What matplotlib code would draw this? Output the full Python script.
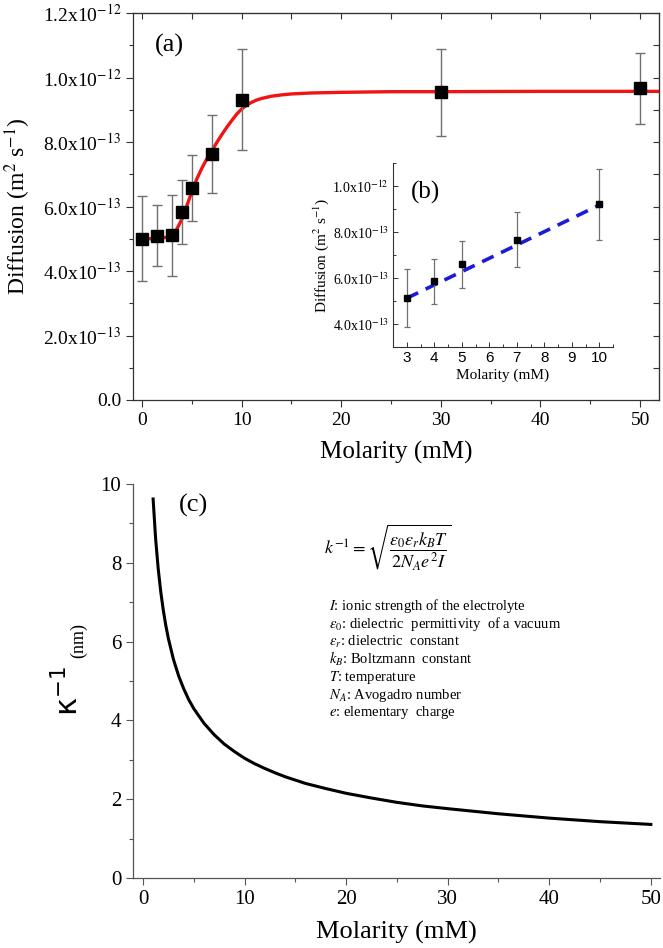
import matplotlib
matplotlib.use("Agg")
import matplotlib.pyplot as plt
from matplotlib.ticker import MultipleLocator

plt.rcParams['font.family'] = ['Liberation Serif', 'DejaVu Serif']
plt.rcParams['mathtext.fontset'] = 'stix'

# ---- panel (a): diffusion vs molarity
molarity = [0, 1.5, 3, 4, 5, 7, 10, 30, 50]
diffusion = [5.00e-13, 5.10e-13, 5.11e-13, 5.84e-13, 6.57e-13, 7.63e-13, 9.31e-13, 9.54e-13, 9.67e-13]
diffusion_err = [1.32e-13, 0.94e-13, 1.25e-13, 0.99e-13, 1.02e-13, 1.20e-13, 1.57e-13, 1.35e-13, 1.10e-13]

# red fitted curve
fit_x = [0, 1, 2, 2.5, 3, 3.5, 4, 4.5, 5, 5.5, 6, 6.5, 7, 7.5, 8, 8.5, 9, 9.5, 10, 10.5, 11, 11.5,
         12, 13, 14, 15, 17, 20, 25, 30, 40, 52]
fit_y = [5.00e-13, 5.00e-13, 5.02e-13, 5.05e-13, 5.12e-13, 5.30e-13, 5.60e-13, 6.02e-13, 6.45e-13,
         6.85e-13, 7.18e-13, 7.47e-13, 7.72e-13, 7.98e-13, 8.22e-13, 8.45e-13, 8.66e-13, 8.86e-13,
         9.02e-13, 9.14e-13, 9.23e-13, 9.30e-13, 9.35e-13, 9.42e-13, 9.46e-13, 9.49e-13, 9.52e-13,
         9.54e-13, 9.56e-13, 9.56e-13, 9.57e-13, 9.57e-13]

xticks_a = [0, 10, 20, 30, 40, 50]
yticks_a = [0, 2e-13, 4e-13, 6e-13, 8e-13, 1e-12, 1.2e-12]
ytick_labels_a = ["0.0", "2.0x10$^{-13}$", "4.0x10$^{-13}$", "6.0x10$^{-13}$",
                  "8.0x10$^{-13}$", "1.0x10$^{-12}$", "1.2x10$^{-12}$"]

# ---- panel (b): inset, low molarity
molarity_b = [3, 4, 5, 7, 10]
diffusion_b = [5.12e-13, 5.85e-13, 6.60e-13, 7.67e-13, 9.21e-13]
diffusion_b_err = [1.26e-13, 0.99e-13, 1.03e-13, 1.21e-13, 1.55e-13]
linfit_x = [3, 10]
linfit_y = [5.12e-13, 9.17e-13]
yticks_b = [4e-13, 6e-13, 8e-13, 1e-12]
ytick_labels_b = ["4.0x10$^{-13}$", "6.0x10$^{-13}$", "8.0x10$^{-13}$", "1.0x10$^{-12}$"]
xticks_b = [3, 4, 5, 6, 7, 8, 9, 10]

# ---- panel (c): Debye length vs molarity
conc = [1, 1.25, 1.5, 1.75, 2, 2.25, 2.5, 3, 3.5, 4, 4.5, 5, 6, 7, 8, 9, 10, 11, 12, 13, 14, 16, 18,
        20, 22.5, 25, 27.5, 30, 35, 40, 45, 50]
debye = [9.62, 8.60, 7.85, 7.27, 6.80, 6.41, 6.08, 5.55, 5.14, 4.81, 4.53, 4.30, 3.93, 3.64, 3.40,
         3.21, 3.04, 2.90, 2.78, 2.67, 2.57, 2.40, 2.27, 2.15, 2.03, 1.92, 1.83, 1.76, 1.63, 1.52,
         1.43, 1.36]
xticks_c = [0, 10, 20, 30, 40, 50]
yticks_c = [0, 2, 4, 6, 8, 10]

equation = r"$k^{-1} = \sqrt{\dfrac{\varepsilon_0\varepsilon_r k_B T}{2N_A e^2 I}}$"
definitions = [
    r"$I$: ionic strength of the electrolyte",
    r"$\varepsilon_0$: dielectric  permittivity  of a vacuum",
    r"$\varepsilon_r$: dielectric  constant",
    r"$k_B$: Boltzmann  constant",
    r"$T$: temperature",
    r"$N_A$: Avogadro number",
    r"$e$: elementary  charge",
]

W, H = 663, 948
fig = plt.figure(figsize=(W / 100, H / 100), dpi=100)


def px(l, t, r, b):
    return [l / W, 1 - b / H, (r - l) / W, (b - t) / H]


def fpos(x, y):
    return x / W, 1 - y / H


spine_c = '#333333'

# ===== (a)
ax_a = fig.add_axes(px(133, 13, 659, 400))
ax_a.plot(fit_x, fit_y, color='#f01414', lw=2.4, zorder=2)
ax_a.errorbar(molarity, diffusion, yerr=diffusion_err, fmt='s', ms=9, mfc='black', mec='black',
              ecolor='#707070', elinewidth=1, capsize=3.5, capthick=1, zorder=3)
ax_a.set_xlim(-0.9, 51.9)
ax_a.set_ylim(0, 1.2e-12)
ax_a.set_xticks(xticks_a)
ax_a.set_yticks(yticks_a, ytick_labels_a)
ax_a.xaxis.set_minor_locator(MultipleLocator(5))
ax_a.yaxis.set_minor_locator(MultipleLocator(1e-13))
ax_a.tick_params(which='both', direction='out', width=0.8, color=spine_c, labelsize=14)
ax_a.tick_params(which='major', length=5)
ax_a.tick_params(which='minor', length=3)
for s in ax_a.spines.values():
    s.set_color(spine_c)
    s.set_linewidth(0.9)

top = ax_a.secondary_xaxis('top')
top.set_xticks(xticks_a, [])
top.xaxis.set_minor_locator(MultipleLocator(5))
top.tick_params(which='both', direction='in', length=4, width=0.8, color=spine_c)
top.spines['top'].set_color(spine_c)
right = ax_a.secondary_yaxis('right')
right.set_yticks(yticks_a, [])
right.yaxis.set_minor_locator(MultipleLocator(1e-13))
right.tick_params(which='both', direction='in', length=4, width=0.8, color=spine_c)
right.spines['right'].set_color(spine_c)

ax_a.set_xlabel('Molarity (mM)', fontsize=18, va='center')
ax_a.xaxis.set_label_coords(0.5, -(452 - 400) / 387)
ax_a.set_ylabel('Diffusion (m$^2$ s$^{-1}$)', fontsize=17, va='center')
ax_a.yaxis.set_label_coords((18 - 133) / 526, 0.5)
fig.text(*fpos(169, 45), '(a)', fontsize=19, ha='center', va='center')

# ===== (b) inset
ax_b = fig.add_axes(px(393, 163, 613, 347))
ax_b.plot(linfit_x, linfit_y, color='#1c1cd8', lw=2.6, dashes=(3.5, 2.3), zorder=2)
ax_b.errorbar(molarity_b, diffusion_b, yerr=diffusion_b_err, fmt='s', ms=5, mfc='black', mec='black',
              ecolor='#707070', elinewidth=0.9, capsize=2, capthick=0.9, zorder=3)
ax_b.set_xlim(2.5, 10.5)
ax_b.set_ylim(3e-13, 1.1e-12)
ax_b.set_xticks(xticks_b, [str(v) for v in xticks_b], family='Liberation Sans', fontsize=11)
ax_b.set_yticks(yticks_b, ytick_labels_b, fontsize=10)
ax_b.xaxis.set_minor_locator(MultipleLocator(0.5))
ax_b.yaxis.set_minor_locator(MultipleLocator(1e-13))
ax_b.tick_params(which='both', direction='in', width=0.7, color=spine_c, pad=3)
ax_b.tick_params(which='major', length=3.5)
ax_b.tick_params(which='minor', length=2)
ax_b.spines['top'].set_visible(False)
ax_b.spines['right'].set_visible(False)
for s in ('left', 'bottom'):
    ax_b.spines[s].set_color(spine_c)
    ax_b.spines[s].set_linewidth(0.8)
ax_b.patch.set_alpha(0)
ax_b.set_xlabel('Molarity (mM)', fontsize=11, va='center')
ax_b.xaxis.set_label_coords(0.5, -(375 - 347) / 184)
ax_b.set_ylabel('Diffusion (m$^2$ s$^{-1}$)', fontsize=11, va='center')
ax_b.yaxis.set_label_coords((321 - 393) / 220, 0.5)
fig.text(*fpos(425, 192), '(b)', fontsize=18, ha='center', va='center')

# ===== (c)
ax_c = fig.add_axes(px(133, 484, 660, 878))
ax_c.plot(conc, debye, color='black', lw=2.2)
ax_c.set_xlim(-0.98, 50.9)
ax_c.set_ylim(0, 10)
ax_c.set_xticks(xticks_c)
ax_c.set_yticks(yticks_c)
ax_c.xaxis.set_minor_locator(MultipleLocator(5))
ax_c.yaxis.set_minor_locator(MultipleLocator(1))
ax_c.tick_params(which='both', direction='out', width=0.8, color='#555555', labelsize=15)
ax_c.tick_params(which='major', length=5)
ax_c.tick_params(which='minor', length=3)
ax_c.spines['top'].set_visible(False)
ax_c.spines['right'].set_visible(False)
for s in ('left', 'bottom'):
    ax_c.spines[s].set_color('#555555')
    ax_c.spines[s].set_linewidth(0.9)
ax_c.set_xlabel('Molarity (mM)', fontsize=19, va='center')
ax_c.xaxis.set_label_coords(0.5, -(932 - 878) / 394)
fig.text(*fpos(68, 691), 'κ$^{-1}$', rotation=90, fontsize=22, family='DejaVu Sans',
         math_fontfamily='dejavusans', ha='center', va='center')
fig.text(*fpos(79, 641), '(nm)', rotation=90, fontsize=13, ha='center', va='center')
fig.text(*fpos(193, 505), '(c)', fontsize=19, ha='center', va='center')

fig.text(*fpos(388, 548), equation, fontsize=13, ha='center', va='center')
for i, line in enumerate(definitions):
    fig.text(*fpos(329, 606 + 17.8 * i), line, fontsize=10.5, ha='left', va='center')

fig.savefig('out.png', dpi=100)
